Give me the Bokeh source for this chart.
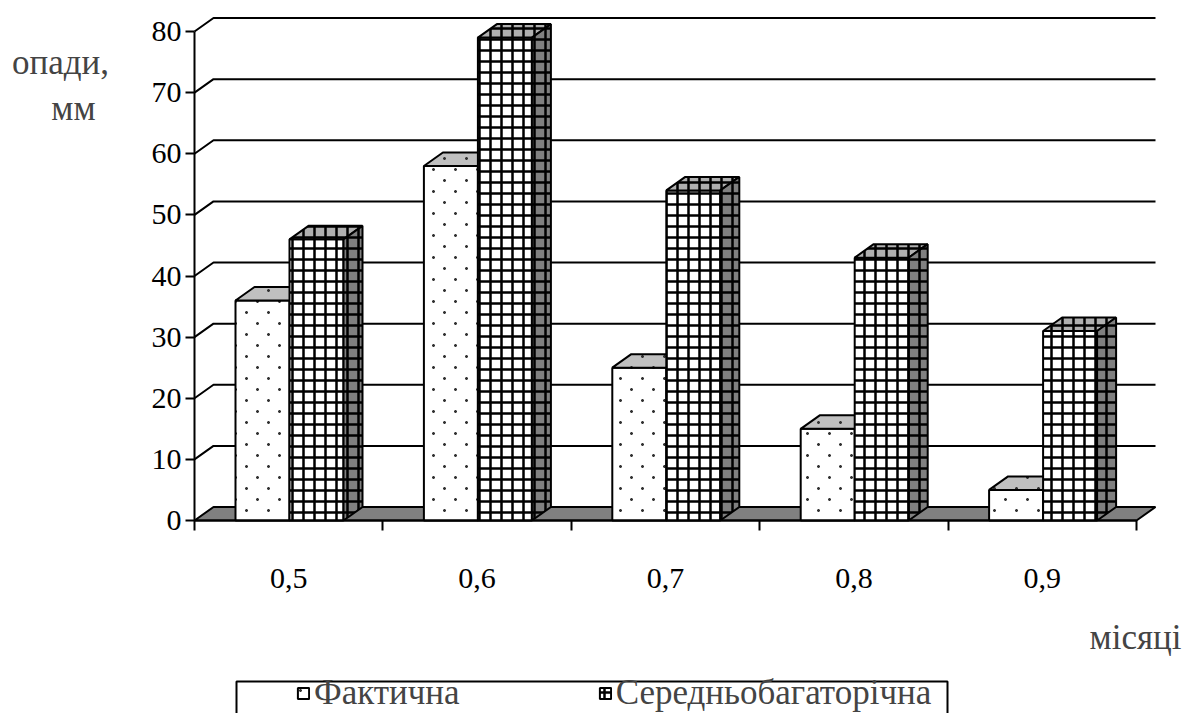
import zlib, struct, base64
from bokeh.plotting import figure
from bokeh.models import (LinearAxis, FixedTicker, Legend, LegendItem, Label, Range1d,
                          ImageURLTexture)
from bokeh.core.properties import value
from bokeh.embed import file_html
from bokeh.resources import INLINE

# ---------------- data ----------------
categories = ["0,5", "0,6", "0,7", "0,8", "0,9"]
actual = [36, 58, 25, 15, 5]            # Фактична
longterm = [46, 79, 54, 43, 31]         # Середньобагаторічна
series_names = ["Фактична", "Середньобагаторічна"]
y_ticks = [0, 10, 20, 30, 40, 50, 60, 70, 80]
y_title = ["опади,", "мм"]
x_title = "місяці"

# ---------------- layout constants (pixels) ----------------
W, H = 1185, 713
PX_CAT = 188.4          # pixels per category
PX_VAL = 6.1125         # pixels per unit of value
OX, OY = 194.0, 520.0   # pixel of origin (front-left corner)
FONT = "Liberation Serif"
FS_TICK = "30px"
FS_TITLE = "35px"
FS_LEG = "35px"


def ux(px):
    return (px - OX) / PX_CAT


def vy(py):
    return (OY - py) / PX_VAL


# sparse staggered dot texture (transparent background)
def dot_texture(w=22, h=22):
    pix = {}
    for cx, cy in ((4, 4), (15, 15)):
        for dx in (-1, 0, 1):
            for dy in (-1, 0, 1):
                a = 255 if (dx == 0 or dy == 0) else 120
                pix[(cx + dx, cy + dy)] = a
    raw = bytearray()
    for yy in range(h):
        raw += b"\x00"
        for xx in range(w):
            a = pix.get((xx, yy), 0)
            raw += bytes((50, 50, 50, a))

    def chunk(t, d):
        c = struct.pack(">I", len(d)) + t + d
        return c + struct.pack(">I", zlib.crc32(t + d) & 0xFFFFFFFF)

    png = (b"\x89PNG\r\n\x1a\n"
           + chunk(b"IHDR", struct.pack(">IIBBBBB", w, h, 8, 6, 0, 0, 0))
           + chunk(b"IDAT", zlib.compress(bytes(raw)))
           + chunk(b"IEND", b""))
    return "data:image/png;base64," + base64.b64encode(png).decode()


DU = 19.0 / PX_CAT       # depth offset (x)
DV = 13.5 / PX_VAL       # depth offset (y)
BAR_OFF = 41.0 / PX_CAT
BAR_W = 54.0 / PX_CAT
n = len(categories)

p = figure(width=W, height=H, x_range=Range1d(ux(0), ux(W)),
           y_range=Range1d(vy(H), vy(0)), output_backend="svg",
           toolbar_location=None, x_axis_type=None, y_axis_type=None,
           min_border=0)
p.outline_line_color = None
p.background_fill_color = "white"

# floor
p.patch(x=[0, n, n + DU, DU], y=[0, 0, DV, DV], fill_color="#808080",
        line_color="black", line_width=2)

# back wall grid lines with left-wall diagonals
gx, gy = [], []
for v in y_ticks[1:]:
    gx.append([0, DU, n + DU])
    gy.append([v, v + DV, v + DV])
p.multi_line(xs=gx, ys=gy, line_color="black", line_width=2)

# bars
aL = [k + BAR_OFF for k in range(n)]
aR = [l + BAR_W for l in aL]
lL = aR
lR = [l + BAR_W for l in lL]

tex = ImageURLTexture(url=dot_texture())
dots = dict(hatch_pattern=value("sparse_dots"), hatch_extra={"sparse_dots": tex})
grid = dict(hatch_pattern="cross", hatch_scale=11, hatch_color="black", hatch_weight=2.5)

r_act = p.quad(left=aL, right=aR, bottom=[0] * n, top=actual,
               fill_color="white", line_color="black", line_width=2, **dots)
p.patches(xs=[[l, r, r + DU, l + DU] for l, r in zip(aL, aR)],
          ys=[[v, v, v + DV, v + DV] for v in actual],
          fill_color="#c0c0c0", line_color="black", line_width=2, **dots)

r_long = p.quad(left=lL, right=lR, bottom=[0] * n, top=longterm,
                fill_color="white", line_color="black", line_width=2, **grid)
p.patches(xs=[[l, r, r + DU, l + DU] for l, r in zip(lL, lR)],
          ys=[[v, v, v + DV, v + DV] for v in longterm],
          fill_color="#b0b0b0", line_color="black", line_width=2, **grid)
p.patches(xs=[[r, r + DU, r + DU, r] for r in lR],
          ys=[[0, DV, v + DV, v] for v in longterm],
          fill_color="#808080", line_color="black", line_width=2, **grid)

# axes
yax = LinearAxis(fixed_location=0, bounds=(0, 80),
                 ticker=FixedTicker(ticks=y_ticks, minor_ticks=[]))
yax.axis_line_color = "black"
yax.axis_line_width = 2
yax.major_tick_line_color = "black"
yax.major_tick_line_width = 2
yax.major_tick_out = 9
yax.major_tick_in = 0
yax.minor_tick_out = 0
yax.minor_tick_in = 0
yax.major_label_text_font = FONT
yax.major_label_text_font_size = FS_TICK
yax.major_label_text_color = "black"
yax.major_label_standoff = 4
p.add_layout(yax, "left")

xax = LinearAxis(fixed_location=0, bounds=(0, n),
                 ticker=FixedTicker(ticks=list(range(n + 1)), minor_ticks=[]))
xax.axis_line_color = "black"
xax.axis_line_width = 2
xax.major_tick_line_color = "black"
xax.major_tick_line_width = 2
xax.major_tick_out = 10
xax.major_tick_in = 0
xax.minor_tick_out = 0
xax.major_label_text_color = None
p.add_layout(xax, "below")

centers = [k + 0.5 for k in range(n)]
xlab = LinearAxis(fixed_location=0,
                  ticker=FixedTicker(ticks=centers, minor_ticks=[]),
                  major_label_overrides={c: t for c, t in zip(centers, categories)})
xlab.axis_line_color = None
xlab.major_tick_line_color = None
xlab.minor_tick_line_color = None
xlab.major_label_text_font = FONT
xlab.major_label_text_font_size = FS_TICK
xlab.major_label_text_color = "black"
xlab.major_label_standoff = 42
p.add_layout(xlab, "below")

# axis titles
p.add_layout(Label(x=ux(60), y=vy(62), text=y_title[0], text_align="center",
                   text_baseline="middle", text_font=FONT, text_font_size=FS_TITLE))
p.add_layout(Label(x=ux(73), y=vy(108), text=y_title[1], text_align="center",
                   text_baseline="middle", text_font=FONT, text_font_size=FS_TITLE))
p.add_layout(Label(x=ux(1181), y=vy(637), text=x_title, text_align="right",
                   text_baseline="middle", text_font=FONT, text_font_size=FS_TITLE))

# legend frame
p.quad(left=[ux(236)], right=[ux(947)], top=[vy(681)], bottom=[vy(740)],
       fill_color=None, line_color="black", line_width=2)

legend = Legend(items=[LegendItem(label=series_names[0], renderers=[r_act]),
                       LegendItem(label=series_names[1], renderers=[r_long])],
                location=(296, 0), orientation="horizontal", padding=0, margin=0,
                spacing=138, glyph_width=14, glyph_height=14, label_standoff=4,
                label_height=34, border_line_color=None, background_fill_alpha=0,
                label_text_font=FONT, label_text_font_size=FS_LEG)
p.add_layout(legend, "center")

open("out.html", "w").write(file_html(p, INLINE))
